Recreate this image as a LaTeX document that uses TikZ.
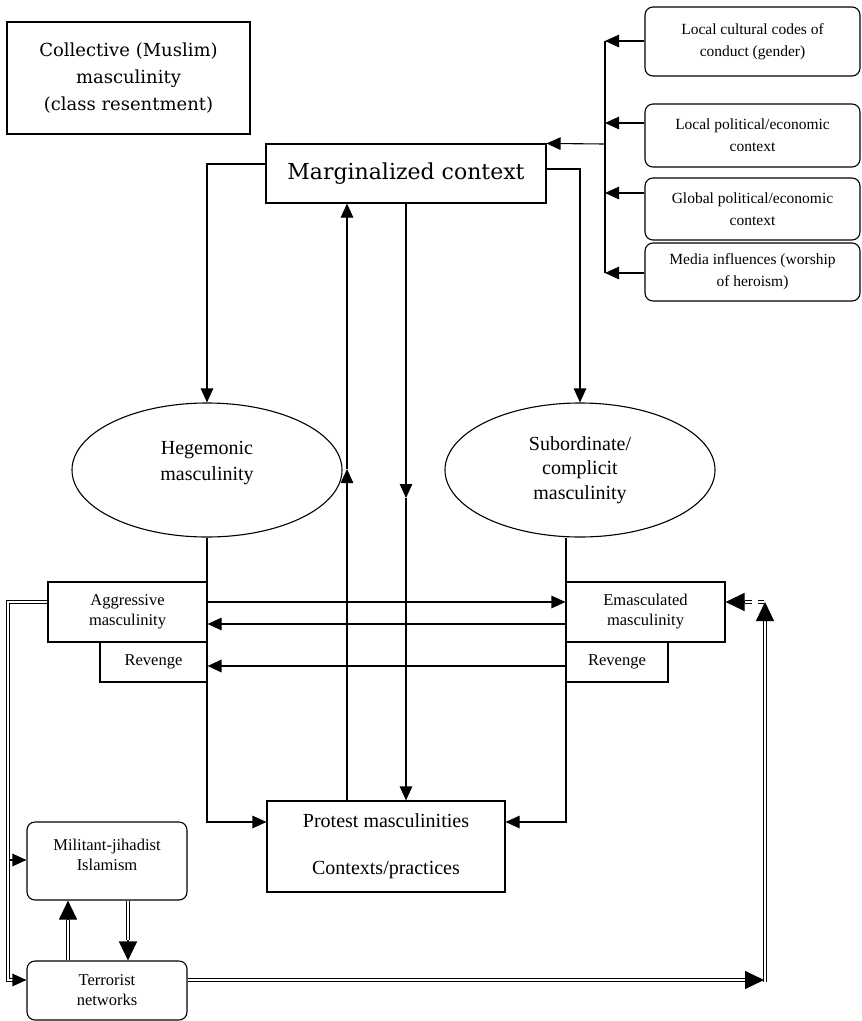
\documentclass[tikz,border=0pt]{standalone}
\usepackage{fontspec}
\setmainfont{Liberation Serif}
\newfontfamily\cambriaf{DejaVu Serif}
\usetikzlibrary{arrows.meta,shapes.geometric,calc}
\begin{document}
\begin{tikzpicture}[x=1pt,y=-1pt, line width=1.1pt,
  >={Triangle[length=14pt,width=12.5pt]},
  box/.style={draw, rectangle, inner sep=0pt, align=center},
  rbox/.style={box, rounded corners=8pt},
  ell/.style={draw, ellipse, inner sep=0pt, align=center, minimum width=270pt, minimum height=134pt},
  dbl/.style={double, double distance=2pt, line width=1.2pt},
  bigtip/.style={-{Triangle[length=19pt,width=18pt]}},
  smallfont/.style={font=\fontsize{16.5}{20}\selectfont},
  rfont/.style={font=\fontsize{15.5}{22}\selectfont}]
\useasboundingbox (0,0) rectangle (862,1021);

% nodes
\node[box, minimum width=243pt, minimum height=112pt, font=\cambriaf\fontsize{18}{27}\selectfont] (coll) at (128.5,78) {Collective (Muslim)\\masculinity\\(class resentment)};
\node[box, minimum width=280pt, minimum height=59pt, font=\cambriaf\fontsize{22}{26}\selectfont] (marg) at (406,173.5) {Marginalized context};

\node[rbox, rfont, minimum width=215pt, minimum height=69pt] (r1) at (752.5,41.5) {Local cultural codes of\\conduct (gender)};
\node[rbox, rfont, minimum width=215pt, minimum height=63pt] (r2) at (752.5,135.5) {Local political/economic\\context};
\node[rbox, rfont, minimum width=215pt, minimum height=62pt] (r3) at (752.5,209) {Global political/economic\\context};
\node[rbox, rfont, minimum width=215pt, minimum height=58pt] (r4) at (752.5,272) {Media influences (worship\\of heroism)};

\node[ell, font=\fontsize{20}{26}\selectfont] (heg) at (207,470) {Hegemonic\\masculinity\\[-8pt]\mbox{}};
\node[ell, font=\fontsize{20}{24.5}\selectfont] (sub) at (580,470) {Subordinate/\\complicit\\masculinity};

\node[box, minimum width=238pt, minimum height=91pt, font=\fontsize{20}{24}\selectfont] (prot) at (386,846.5) {Protest masculinities\\[23pt]Contexts/practices};

\node[box, smallfont, minimum width=159pt, minimum height=60pt] (aggr) at (127.5,612) {Aggressive\\masculinity};
\node[box, smallfont, minimum width=107pt, minimum height=40pt] (revL) at (153.5,662) {Revenge};
\node[box, smallfont, minimum width=159pt, minimum height=60pt] (emasc) at (645.5,612) {Emasculated\\masculinity};
\node[box, smallfont, minimum width=102pt, minimum height=40pt] (revR) at (617,662) {Revenge};

\node[rbox, smallfont, minimum width=160pt, minimum height=78pt] (mil) at (107,861) {Militant-jihadist\\Islamism\\[-8pt]\mbox{}};
\node[rbox, smallfont, minimum width=160pt, minimum height=59pt] (terr) at (107,990.5) {Terrorist\\networks};

% bus on the right
\coordinate (b1) at (605,41);
\coordinate (b2) at (605,123);
\coordinate (b3) at (605,193);
\coordinate (b4) at (605,273);
\coordinate (bm) at (605,144);
\draw (b1) -- (b4);
\draw[->] (r1.west |- b1) -- (b1);
\draw[->] (r2.west |- b2) -- (b2);
\draw[->] (r3.west |- b3) -- (b3);
\draw[->] (r4.west |- b4) -- (b4);
\draw[->] (bm) -- (marg.north east);

% from marginalized context to ellipses
\coordinate (tl) at (207,164);
\coordinate (tr) at (580,169);
\draw[->] (marg.west |- tl) -- (tl) -- (heg.north);
\draw[->] (marg.east |- tr) -- (tr) -- (sub.north);

% middle verticals
\coordinate (upmid) at (347,469);
\coordinate (dnmid) at (406,498);
\draw[->] (prot.north -| upmid) -- (upmid);
\draw[->] (upmid) -- (marg.south -| upmid);
\draw[->] (marg.south -| dnmid) -- (dnmid);
\draw[->] (dnmid) -- (prot.north -| dnmid);

% ellipses to protest
\coordinate (bl) at (207,822);
\coordinate (br) at (566,822);
\draw[->] (heg.south) -- (bl) -- (prot.west |- bl);
\draw[->] (sub.south -| br) -- (br) -- (prot.east |- br);

% horizontal arrows between masculinities
\draw[->] ([yshift=10pt]aggr.east) -- ([yshift=10pt]emasc.west);
\draw[->] ([yshift=-12pt]emasc.west) -- ([yshift=-12pt]aggr.east);
\draw[->, line width=1.7pt] ([yshift=-4pt]revR.west) -- ([yshift=-4pt]revL.east);

% left double line
\coordinate (lt) at (8,602);
\coordinate (lb) at (8,980);
\coordinate (lb2) at (15,980);
\coordinate (lm) at (9.5,860);
\draw[dbl] ([yshift=10pt]aggr.west) -- (lt) -- (lb) -- (lb2);
\draw[->] (lb2) -- (terr.west |- lb2);
\draw[->] (lm) -- (mil.west |- lm);

% militant / terrorist
\coordinate (mu) at (68,920);
\coordinate (md) at (128,940);
\draw[dbl] (terr.north -| mu) -- (mu);
\draw[bigtip] (mu) -- (mil.south -| mu);
\draw[dbl] (mil.south -| md) -- (md);
\draw[bigtip] (md) -- (terr.north -| md);

% terrorist to the right and up
\coordinate (rbA) at (745,980);
\coordinate (rb) at (764,980);
\coordinate (rv1) at (765,981.5);
\coordinate (rv2) at (765,620);
\coordinate (rv3) at (765,602);
\draw[dbl] (terr.east |- rbA) -- (rbA);
\draw[bigtip] (rbA) -- (rb);
\draw[dbl] (rv1) -- (rv2);
\draw[bigtip] (rv2) -- (rv3);

% dashed double arrow into emasculated
\coordinate (ed1) at (764,602);
\coordinate (ed2) at (758,602);
\coordinate (ed3) at (752,602);
\coordinate (ed4) at (745,602);
\draw[dbl] (ed1) -- (ed2);
\draw[dbl] (ed3) -- (ed4);
\draw[bigtip] (ed4) -- ([yshift=10pt]emasc.east);
\end{tikzpicture}
\end{document}
